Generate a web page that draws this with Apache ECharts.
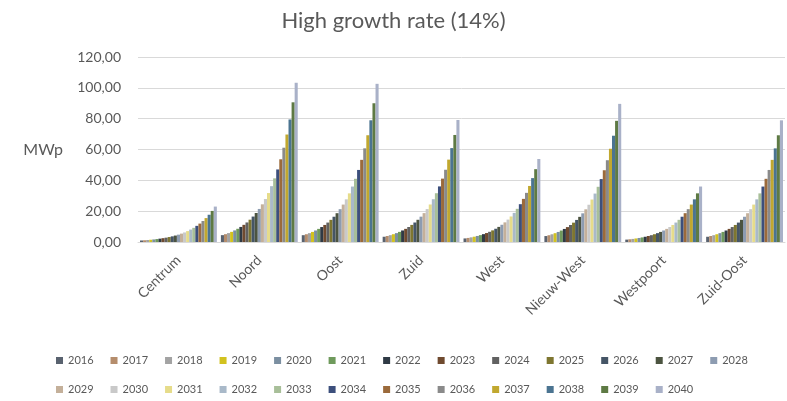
<!DOCTYPE html>
<html>
<head>
<meta charset="utf-8">
<script src="https://cdn.jsdelivr.net/npm/echarts@6/dist/echarts.min.js"></script>
<style>
  html, body { margin: 0; padding: 0; background: #fff; }
  #chart { width: 787px; height: 401px; }
</style>
</head>
<body>
<div id="chart"></div>
<script>
// Districts on the category axis
const districts = ['Centrum', 'Noord', 'Oost', 'Zuid', 'West', 'Nieuw-West', 'Westpoort', 'Zuid-Oost'];

// Years, one bar series each
const years = ['2016','2017','2018','2019','2020','2021','2022','2023','2024','2025','2026','2027','2028',
               '2029','2030','2031','2032','2033','2034','2035','2036','2037','2038','2039','2040'];

// Installed capacity per district (MWp), 2016 .. 2040
const centrum   = [0.99,1.13,1.29,1.47,1.67,1.91,2.17,2.48,2.82,3.22,3.67,4.18,4.77,5.44,6.20,7.07,8.06,9.18,10.47,11.94,13.61,15.51,17.68,20.16,22.98];
const noord     = [4.45,5.07,5.78,6.59,7.52,8.57,9.77,11.14,12.69,14.47,16.50,18.81,21.44,24.44,27.86,31.76,36.21,41.28,47.06,53.65,61.16,69.72,79.48,90.61,103.29];
const oost      = [4.42,5.04,5.74,6.55,7.47,8.51,9.70,11.06,12.61,14.37,16.39,18.68,21.30,24.28,27.68,31.55,35.97,41.00,46.74,53.29,60.75,69.25,78.95,90.00,102.60];
const zuid      = [3.41,3.89,4.43,5.05,5.76,6.57,7.48,8.53,9.73,11.09,12.64,14.41,16.43,18.73,21.35,24.34,27.75,31.63,36.06,41.11,46.87,53.43,60.91,69.43,79.15];
const west      = [2.32,2.64,3.02,3.44,3.92,4.47,5.09,5.81,6.62,7.54,8.60,9.80,11.18,12.74,14.53,16.56,18.88,21.52,24.53,27.97,31.88,36.35,41.44,47.24,53.85];
const nieuwWest = [3.86,4.40,5.02,5.72,6.52,7.43,8.47,9.66,11.01,12.55,14.31,16.31,18.60,21.20,24.17,27.55,31.41,35.81,40.82,46.54,53.05,60.48,68.94,78.60,89.60];
const westpoort = [1.55,1.77,2.01,2.30,2.62,2.98,3.40,3.88,4.42,5.04,5.75,6.55,7.47,8.51,9.71,11.06,12.61,14.38,16.39,18.69,21.30,24.28,27.68,31.56,35.98];
const zuidOost  = [3.40,3.88,4.42,5.04,5.74,6.55,7.46,8.51,9.70,11.06,12.60,14.37,16.38,18.67,21.29,24.27,27.67,31.54,35.96,40.99,46.73,53.27,60.73,69.23,78.92];

const byDistrict = [centrum, noord, oost, zuid, west, nieuwWest, westpoort, zuidOost];

// Series colours, one per year
const palette = [
  '#59626f','#b58d6c','#a3a3a3','#d2c21f','#7b8fa1','#6f9a5c',
  '#2f3a45','#6f4a2f','#616161','#7e7630','#455566','#4c5440',
  '#8d9cb1','#c4b09a','#c9c9c9','#e6dc8a','#a9b9c9','#a8bf99',
  '#3c4f7c','#9b6a3b','#8a8a8a','#c1a82f','#4b7491','#5e7a44','#a9b1c8'
];

const textColor = '#595959';
const font = 'Lato, "Open Sans", sans-serif';

const series = years.map((y, i) => ({
  name: y,
  type: 'bar',
  data: byDistrict.map(d => d[i]),
  itemStyle: { color: palette[i] },
  barGap: '0%',
  barCategoryGap: '5%'
}));

const legendStyle = {
  itemWidth: 7, itemHeight: 7, itemGap: 17,
  icon: 'rect',
  textStyle: { fontFamily: font, fontSize: 11, color: textColor }
};

const chart = echarts.init(document.getElementById('chart'), null, { renderer: 'canvas' });

chart.setOption({
  animation: false,
  backgroundColor: '#ffffff',
  textStyle: { fontFamily: font },
  title: {
    text: 'High growth rate (14%)',
    left: 'center',
    top: 5,
    textStyle: { fontFamily: font, fontSize: 22, fontWeight: 'normal', color: textColor }
  },
  legend: [
    Object.assign({ data: years.slice(0, 13), left: 51, top: 350 }, legendStyle),
    Object.assign({ data: years.slice(13), left: 51, top: 379 }, legendStyle)
  ],
  grid: { left: 138, right: 2, top: 57, bottom: 159, containLabel: false },
  xAxis: {
    type: 'category',
    data: districts,
    axisLine: { lineStyle: { color: '#d9d9d9' } },
    axisTick: { show: false },
    axisLabel: { rotate: 45, color: textColor, fontSize: 14, fontFamily: font, margin: 16 }
  },
  yAxis: {
    type: 'value',
    min: 0, max: 120, interval: 20,
    name: 'MWp',
    nameLocation: 'middle',
    nameRotate: 0,
    nameGap: 75,
    nameTextStyle: { color: textColor, fontSize: 16, fontFamily: font },
    axisLine: { show: false },
    axisTick: { show: false },
    splitLine: { lineStyle: { color: '#d9d9d9' } },
    axisLabel: {
      color: textColor, fontSize: 14, fontFamily: font, margin: 17,
      formatter: v => v.toFixed(2).replace('.', ',')
    }
  },
  series: series
});
</script>
</body>
</html>
